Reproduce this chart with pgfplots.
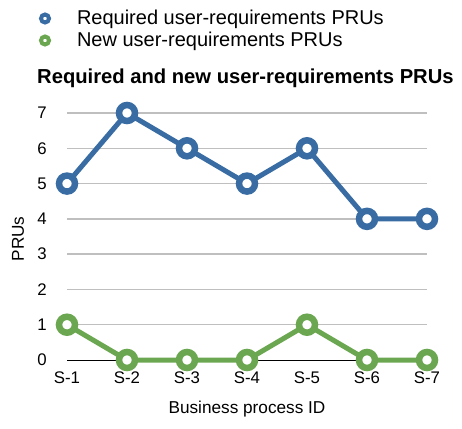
\documentclass[border=0pt]{standalone}
\usepackage{fontspec}
\setmainfont{Liberation Sans}
\usepackage{pgfplots}
\pgfplotsset{compat=1.18}
\definecolor{cblue}{RGB}{56,108,163}
\definecolor{cgreen}{RGB}{106,167,80}
\begin{document}
\begin{tikzpicture}
\useasboundingbox (0,0) rectangle (462pt,428pt);
\begin{axis}[
  at={(67pt,68pt)}, anchor=south west,
  scale only axis, width=360pt, height=247pt,
  xmin=0, xmax=6, ymin=0, ymax=7,
  clip=false,
  axis line style={draw=none},
  major tick length=0pt,
  xtick={0,...,6},
  xticklabels={S-1,S-2,S-3,S-4,S-5,S-6,S-7},
  ytick={1,...,7},
  extra y ticks={0},
  extra y tick style={grid style={black, line width=1pt}},
  ymajorgrids,
  grid style={color=black!25, line width=1.3pt},
  /pgf/number format/assume math mode=true,
  tick label style={font=\fontsize{16.8}{19}\selectfont, inner sep=0pt},
  yticklabel style={xshift=-20pt},
  xticklabel style={yshift=-12pt},
  xlabel={Business process ID},
  xlabel style={at={(axis description cs:0.5,0)}, anchor=north, yshift=-41pt, inner sep=0pt, font=\fontsize{17.2}{20}\selectfont},
  ylabel={PRUs},
  ylabel style={at={(axis description cs:-0.136,0.49)}, anchor=center, inner sep=0pt, font=\fontsize{17.2}{20}\selectfont},
  title={\textbf{Required and new user-requirements PRUs}},
  title style={at={(axis description cs:-0.0833,1.097)}, anchor=base west, inner sep=0pt, font=\fontsize{20.2}{24}\selectfont},
  legend style={at={(axis description cs:-0.0861,1.415)}, anchor=north west, draw=none, fill=none, inner sep=0pt, outer sep=0pt, row sep=6pt, font=\fontsize{20}{24}\selectfont, nodes={inner sep=0pt}},
  legend cell align=left,
  legend image code/.code={\draw[#1, line width=4pt, fill=white] (6.5pt,0pt) circle (4pt); \path (0pt,0pt) (36pt,0pt);},
]
\addplot[color=cblue, line width=5pt, mark=*, mark size=8pt, mark options={fill=white, line width=6.5pt}]
  coordinates {(0,5) (1,7) (2,6) (3,5) (4,6) (5,4) (6,4)};
\addlegendentry{Required user-requirements PRUs}
\addplot[color=cgreen, line width=5pt, mark=*, mark size=8pt, mark options={fill=white, line width=6.5pt}]
  coordinates {(0,1) (1,0) (2,0) (3,0) (4,1) (5,0) (6,0)};
\addlegendentry{New user-requirements PRUs}
\end{axis}
\end{tikzpicture}
\end{document}
